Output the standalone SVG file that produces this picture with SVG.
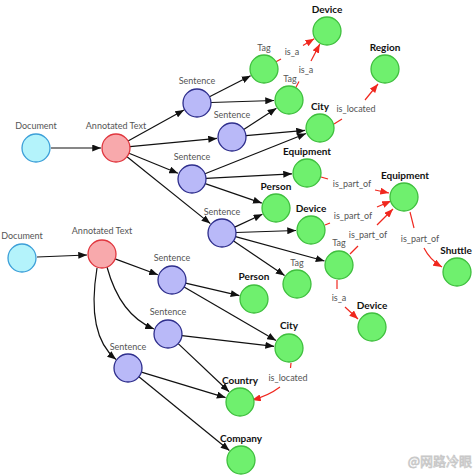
<svg xmlns="http://www.w3.org/2000/svg" width="475" height="475" viewBox="0 0 475 475">
<defs>
<marker id="ab" viewBox="0 0 10 8" refX="10" refY="4" markerWidth="9" markerHeight="7" orient="auto" markerUnits="userSpaceOnUse"><path d="M0,0 L10,4 L0,8 z" fill="#111"/></marker>
<marker id="ar" viewBox="0 0 10 8" refX="10" refY="4" markerWidth="9" markerHeight="7" orient="auto" markerUnits="userSpaceOnUse"><path d="M0,0 L10,4 L0,8 z" fill="#f0271e"/></marker>
<style>
.doc{fill:#b4f3fb;stroke:#3c9fd8;stroke-width:1.3}
.at{fill:#f8a9ac;stroke:#e0363e;stroke-width:1.3}
.sen{fill:#b9b9f8;stroke:#2e2e8c;stroke-width:1.3}
.ent{fill:#6ff06e;stroke:#3fbf3e;stroke-width:1.3}
.lbl{font-family:Lato,"Open Sans",sans-serif;font-size:9px;fill:#555;text-anchor:middle}
.bl{font-family:Lato,"Open Sans",sans-serif;font-size:10px;font-weight:bold;fill:#111;text-anchor:middle}
.e{stroke:#111;stroke-width:1.2;fill:none;marker-end:url(#ab)}
.r{stroke:#f0271e;stroke-width:1.2;fill:none}
.ra{stroke:#f0271e;stroke-width:1.2;fill:none;marker-end:url(#ar)}
.rl{font-family:Lato,"Open Sans",sans-serif;font-size:9px;fill:#555;text-anchor:middle}
</style>
</defs>
<rect width="475" height="475" fill="#fff"/>
<g id="connectors">
<line class="e" x1="51" y1="148" x2="101" y2="148"/>
<line class="e" x1="128" y1="141" x2="184" y2="110"/>
<line class="e" x1="130" y1="146.7" x2="217" y2="138.4"/>
<line class="e" x1="129" y1="153.3" x2="178" y2="173.3"/>
<line class="e" x1="127" y1="156.8" x2="210.3" y2="223.6"/>
<line class="e" x1="209.5" y1="96.7" x2="250.6" y2="75.8"/>
<line class="e" x1="211" y1="102.5" x2="274" y2="100.5"/>
<line class="e" x1="243.7" y1="129.4" x2="276.4" y2="108.2"/>
<line class="e" x1="246" y1="135.7" x2="305" y2="130.4"/>
<line class="e" x1="205" y1="173.8" x2="306" y2="133.5"/>
<line class="e" x1="206" y1="178.3" x2="292" y2="173.8"/>
<line class="e" x1="205.2" y1="183.6" x2="261.8" y2="203.1"/>
<line class="e" x1="234.7" y1="227.1" x2="262.4" y2="214.3"/>
<line class="e" x1="236" y1="232.5" x2="296" y2="230.5"/>
<line class="e" x1="235.5" y1="236.7" x2="324.5" y2="261"/>
<line class="e" x1="233.6" y1="240.9" x2="284.6" y2="275.6"/>
<line class="e" x1="37" y1="257" x2="87" y2="255"/>
<line class="e" x1="115.1" y1="258.9" x2="157.9" y2="274.8"/>
<path class="e" d="M107,267 Q120,315 154,329"/>
<path class="e" d="M97,268 Q86,335 116,359.5"/>
<line class="e" x1="185.6" y1="283.2" x2="239.4" y2="295.6"/>
<line class="e" x1="184.1" y1="287" x2="276" y2="340.5"/>
<line class="e" x1="181.9" y1="335.6" x2="274.1" y2="346.3"/>
<line class="e" x1="178.2" y1="343.6" x2="229.1" y2="391.7"/>
<line class="e" x1="141.4" y1="372.1" x2="225.6" y2="397.6"/>
<line class="e" x1="138.9" y1="376.8" x2="229.4" y2="450.5"/>
<!-- relations -->
<line class="r" x1="276" y1="61.8" x2="281" y2="59"/>
<text class="rl" x="292" y="55">is_a</text>
<line class="ra" x1="303" y1="45.5" x2="314.2" y2="38.7"/>
<line class="r" x1="295.7" y1="87.7" x2="299" y2="81.5"/>
<text class="rl" x="306" y="73">is_a</text>
<line class="ra" x1="311" y1="61" x2="319.8" y2="44.1"/>
<line class="r" x1="334" y1="124" x2="342" y2="119"/>
<text class="rl" x="356" y="112">is_located</text>
<line class="ra" x1="365" y1="100" x2="378" y2="84"/>
<line class="r" x1="321" y1="177" x2="328" y2="179"/>
<text class="rl" x="352" y="187">is_part_of</text>
<line class="ra" x1="375" y1="190" x2="389" y2="193"/>
<line class="r" x1="325" y1="225" x2="330" y2="223"/>
<text class="rl" x="353" y="219">is_part_of</text>
<line class="ra" x1="377" y1="207" x2="391" y2="201"/>
<line class="r" x1="350" y1="254" x2="358" y2="246"/>
<text class="rl" x="368" y="238">is_part_of</text>
<line class="ra" x1="377" y1="225" x2="393" y2="209"/>
<line class="r" x1="410" y1="212" x2="414" y2="228"/>
<text class="rl" x="420" y="242">is_part_of</text>
<path class="ra" d="M424,248 Q430,260 442,267"/>
<line class="r" x1="337" y1="280" x2="337" y2="289"/>
<text class="rl" x="339" y="301">is_a</text>
<line class="ra" x1="345" y1="307" x2="358" y2="319"/>
<line class="r" x1="291" y1="363" x2="290.5" y2="368"/>
<text class="rl" x="288" y="381">is_located</text>
<path class="ra" d="M280,387 Q268,396 252,400"/>
</g>
<g id="doc1"><circle class="doc" cx="36" cy="148" r="14"/><text class="lbl" x="36" y="129">Document</text></g>
<g id="at1"><circle class="at" cx="116" cy="148" r="14"/><text class="lbl" x="116" y="129">Annotated Text</text></g>
<g id="s1"><circle class="sen" cx="197" cy="103" r="14"/><text class="lbl" x="197" y="84">Sentence</text></g>
<g id="s2"><circle class="sen" cx="232" cy="137" r="14"/><text class="lbl" x="232" y="118">Sentence</text></g>
<g id="s3"><circle class="sen" cx="192" cy="179" r="14"/><text class="lbl" x="192" y="160">Sentence</text></g>
<g id="s4"><circle class="sen" cx="222" cy="233" r="14"/><text class="lbl" x="222" y="215">Sentence</text></g>
<g id="tag1"><circle class="ent" cx="264" cy="69" r="14"/><text class="lbl" x="264" y="51">Tag</text></g>
<g id="tag2"><circle class="ent" cx="289" cy="100" r="14"/><text class="lbl" x="290" y="82">Tag</text></g>
<g id="device1"><circle class="ent" cx="327" cy="31" r="14"/><text class="bl" x="327" y="13">Device</text></g>
<g id="region"><circle class="ent" cx="385" cy="69" r="14"/><text class="bl" x="385" y="51">Region</text></g>
<g id="city1"><circle class="ent" cx="320" cy="128" r="14"/><text class="bl" x="320" y="110">City</text></g>
<g id="equipment1"><circle class="ent" cx="307" cy="173" r="14"/><text class="bl" x="307" y="155">Equipment</text></g>
<g id="person1"><circle class="ent" cx="276" cy="208" r="14"/><text class="bl" x="276" y="190">Person</text></g>
<g id="device2"><circle class="ent" cx="311" cy="230" r="14"/><text class="bl" x="311" y="212">Device</text></g>
<g id="equipment2"><circle class="ent" cx="404" cy="197" r="14"/><text class="bl" x="405" y="179">Equipment</text></g>
<g id="tag3"><circle class="ent" cx="339" cy="265" r="14"/><text class="lbl" x="339" y="246">Tag</text></g>
<g id="tag4"><circle class="ent" cx="297" cy="284" r="14"/><text class="lbl" x="297" y="266">Tag</text></g>
<g id="shuttle"><circle class="ent" cx="457" cy="272" r="14"/><text class="bl" x="456" y="254">Shuttle</text></g>
<g id="device3"><circle class="ent" cx="372" cy="327" r="14"/><text class="bl" x="372" y="309">Device</text></g>
<g id="doc2"><circle class="doc" cx="22" cy="258" r="14"/><text class="lbl" x="22" y="239">Document</text></g>
<g id="at2"><circle class="at" cx="102" cy="254" r="14"/><text class="lbl" x="102" y="234">Annotated Text</text></g>
<g id="s5"><circle class="sen" cx="172" cy="280" r="14"/><text class="lbl" x="172" y="261">Sentence</text></g>
<g id="s6"><circle class="sen" cx="168" cy="334" r="14"/><text class="lbl" x="168" y="315">Sentence</text></g>
<g id="s7"><circle class="sen" cx="128" cy="368" r="14"/><text class="lbl" x="128" y="350">Sentence</text></g>
<g id="person2"><circle class="ent" cx="254" cy="299" r="14"/><text class="bl" x="254" y="280">Person</text></g>
<g id="city2"><circle class="ent" cx="289" cy="348" r="14"/><text class="bl" x="289" y="329">City</text></g>
<g id="country"><circle class="ent" cx="240" cy="402" r="14"/><text class="bl" x="240" y="384">Country</text></g>
<g id="company"><circle class="ent" cx="241" cy="460" r="14"/><text class="bl" x="241" y="442">Company</text></g>
<text x="472" y="466" font-family="'Noto Sans CJK SC',sans-serif" font-size="13" fill="#fff" stroke="#c8c8c8" stroke-width="0.8" text-anchor="end">@网路冷眼</text>
</svg>
